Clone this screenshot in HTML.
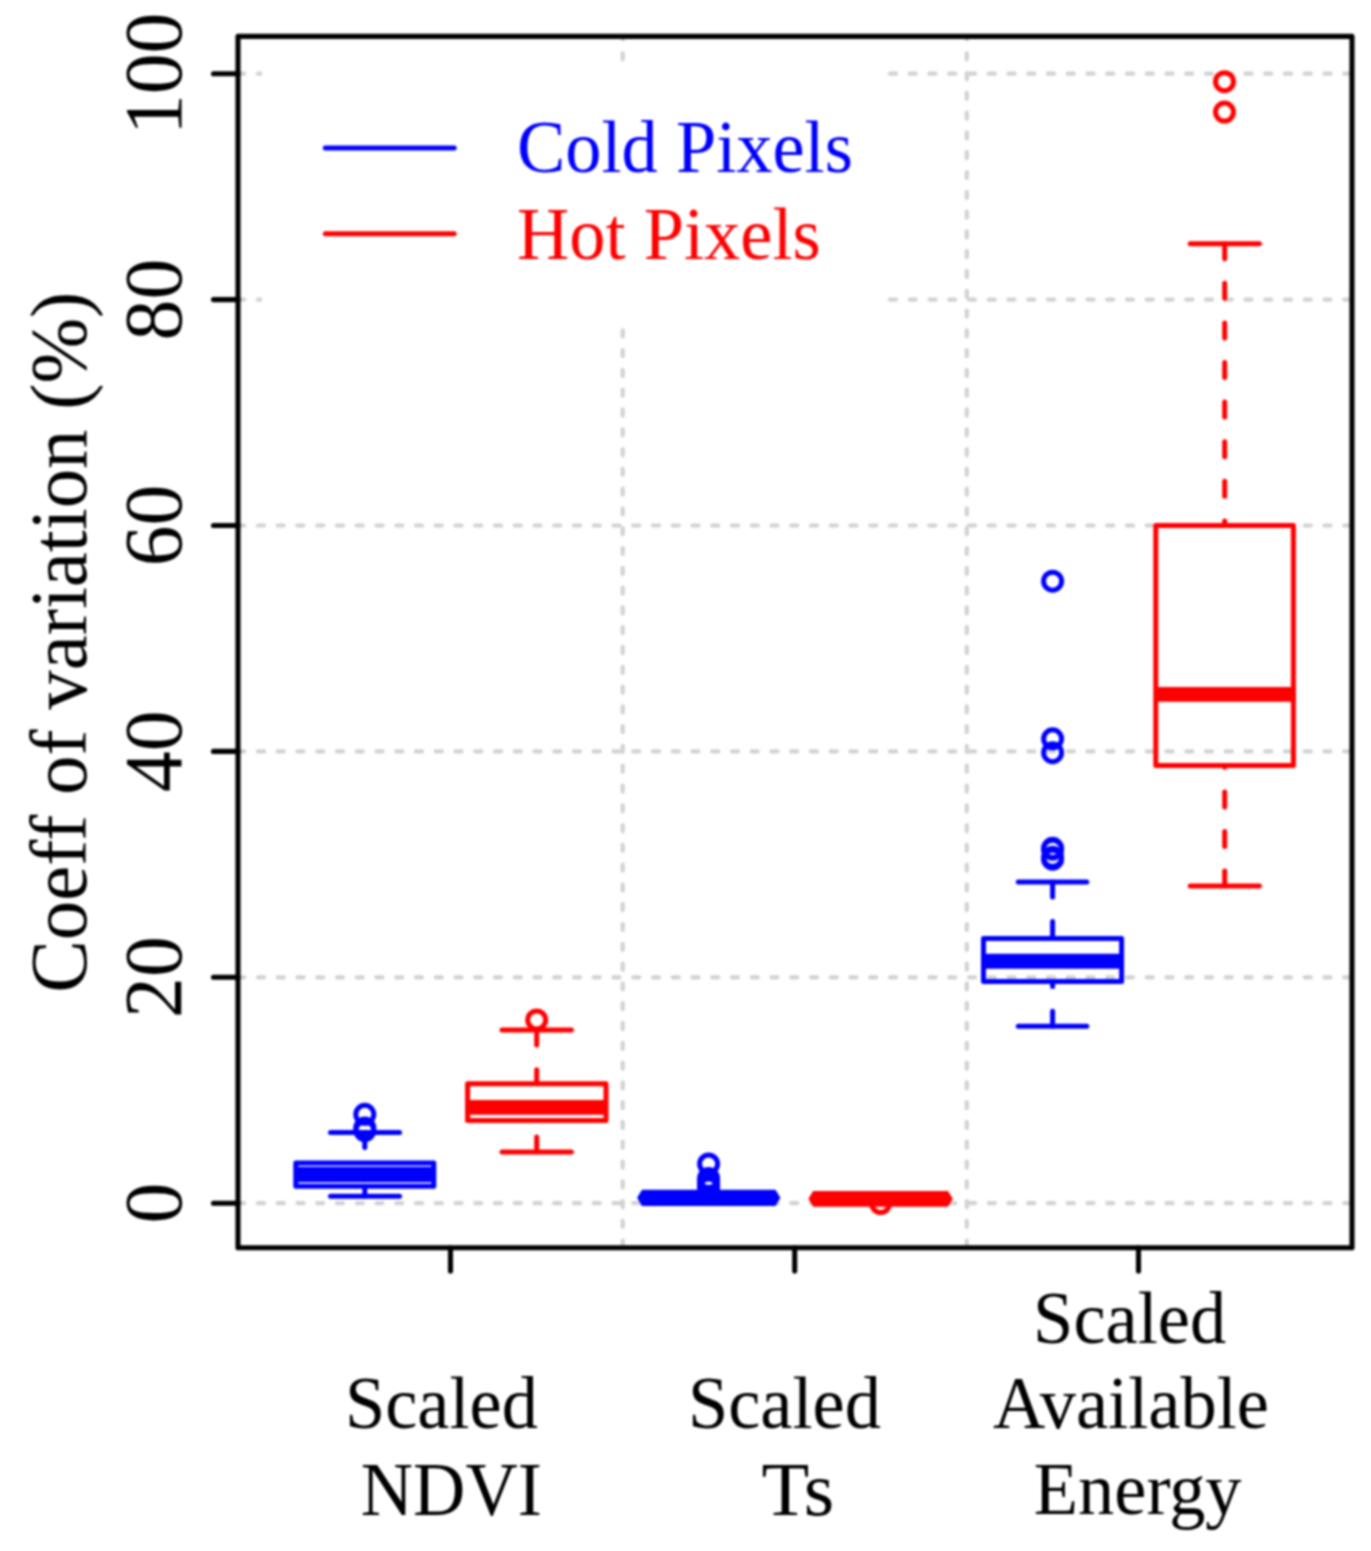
<!DOCTYPE html>
<html>
<head>
<meta charset="utf-8">
<title>Coeff of variation boxplot</title>
<style>
html,body{margin:0;padding:0;background:#fff;}
body{width:1371px;height:1551px;overflow:hidden;}
svg{display:block;position:absolute;left:0;top:0;}
text{font-family:"Liberation Serif",serif;}
</style>
</head>
<body>
<svg id="chart" width="1371" height="1551" viewBox="0 0 1371 1551">
<defs><filter id="soft" x="-2%" y="-2%" width="104%" height="104%" color-interpolation-filters="sRGB"><feGaussianBlur stdDeviation="0.8"/></filter></defs>
<rect x="-20" y="-20" width="1411" height="1591" fill="#fff"/>
<g id="all" filter="url(#soft)">
<rect x="-20" y="-20" width="1411" height="1591" fill="#fff"/>

<!-- grid lines -->
<g id="gridh" stroke="#d2d2d2" stroke-width="4.2" fill="none" stroke-linecap="round" stroke-dasharray="6.1 13.65">
  <line x1="238.2" y1="73.7" x2="1352" y2="73.7"/>
  <line x1="238.2" y1="299.6" x2="1352" y2="299.6"/>
  <line x1="238.2" y1="525.5" x2="1352" y2="525.5"/>
  <line x1="238.2" y1="751.4" x2="1352" y2="751.4"/>
  <line x1="238.2" y1="977.3" x2="1352" y2="977.3"/>
  <line x1="238.2" y1="1203.2" x2="1352" y2="1203.2"/>
</g>
<g id="gridv" stroke="#d2d2d2" stroke-width="4.2" fill="none" stroke-linecap="round" stroke-dasharray="6.1 13.69">
  <line x1="622.7" y1="1246.75" x2="622.7" y2="36"/>
  <line x1="966.8" y1="1246.75" x2="966.8" y2="36"/>
</g>

<!-- legend background -->
<rect id="legbg" x="262" y="62" width="624" height="266" fill="#fff"/>

<!-- frame -->
<rect id="frame" x="238" y="36.4" width="1114" height="1211.3" fill="none" stroke="#000000" stroke-width="5.1" stroke-linejoin="round"/>

<!-- y ticks -->
<g id="yticks" stroke="#000000" stroke-width="5.1" stroke-linecap="round">
  <line x1="213.5" y1="73.7" x2="238" y2="73.7"/>
  <line x1="213.5" y1="299.6" x2="238" y2="299.6"/>
  <line x1="213.5" y1="525.5" x2="238" y2="525.5"/>
  <line x1="213.5" y1="751.4" x2="238" y2="751.4"/>
  <line x1="213.5" y1="977.3" x2="238" y2="977.3"/>
  <line x1="213.5" y1="1203.2" x2="238" y2="1203.2"/>
</g>
<!-- x ticks -->
<g id="xticks" stroke="#000000" stroke-width="5.1" stroke-linecap="round">
  <line x1="450.5" y1="1247.7" x2="450.5" y2="1271"/>
  <line x1="794.7" y1="1247.7" x2="794.7" y2="1271"/>
  <line x1="1138.5" y1="1247.7" x2="1138.5" y2="1271"/>
</g>

<!-- y tick labels -->
<g id="ylabels" font-size="81.6" fill="#000000" text-anchor="middle">
  <text transform="translate(180.8,73.8) rotate(-90) scale(1,1.02)">100</text>
  <text transform="translate(180.8,299.6) rotate(-90) scale(1,1.02)">80</text>
  <text transform="translate(180.8,525.4) rotate(-90) scale(1,1.02)">60</text>
  <text transform="translate(180.8,751.3) rotate(-90) scale(1,1.02)">40</text>
  <text transform="translate(180.8,977.1) rotate(-90) scale(1,1.02)">20</text>
  <text transform="translate(180.8,1203) rotate(-90) scale(1,1.02)">0</text>
</g>
<text id="ytitle" font-size="78" fill="#000000" text-anchor="middle" transform="translate(85.9,642.25) rotate(-90) scale(1.011,1.02)">Coeff of variation (%)</text>

<!-- x labels -->
<g id="xlabels" font-size="72.4" fill="#000000" text-anchor="middle">
  <text id="xl1a" transform="translate(441.4,1428.2) scale(1,1.03)">Scaled</text>
  <text id="xl1b" transform="translate(451.3,1514.8) scale(1,1.055)">NDVI</text>
  <text id="xl2a" transform="translate(784.4,1428.2) scale(1,1.03)">Scaled</text>
  <text id="xl2b" transform="translate(797.8,1514.8) scale(1.08,1.04)">Ts</text>
  <text id="xl3a" transform="translate(1129.6,1343) scale(1,1.03)">Scaled</text>
  <text id="xl3b" transform="translate(1130.9,1428) scale(1,1.03)">Available</text>
  <text id="xl3c" transform="translate(1137.7,1514.4) scale(1,1.03)">Energy</text>
</g>

<!-- legend -->
<g id="legend" font-size="72.4">
  <line x1="325.3" y1="148" x2="454.2" y2="148" stroke="#0000ff" stroke-width="5" stroke-linecap="round"/>
  <line x1="325.3" y1="233.8" x2="454.2" y2="233.8" stroke="#ff0000" stroke-width="5" stroke-linecap="round"/>
  <text id="lg1" transform="translate(517,172) scale(1,1.03)" fill="#0000ff">Cold Pixels</text>
  <text id="lg2" transform="translate(517,258.7) scale(1,1.03)" fill="#ff0000">Hot Pixels</text>
</g>

<!-- BOXES -->
<g id="boxes" fill="none" stroke-width="5" stroke-linecap="round" stroke-linejoin="round">

  <!-- NDVI cold (blue) -->
  <g stroke="#0000ff">
    <line x1="364.8" y1="1132.5" x2="364.8" y2="1163" stroke-dasharray="15 24.6"/>
    <line x1="364.8" y1="1196.3" x2="364.8" y2="1186.2" stroke-dasharray="15 24.6"/>
    <line x1="330.5" y1="1132.5" x2="399.5" y2="1132.5"/>
    <line x1="330.5" y1="1196.3" x2="399.5" y2="1196.3"/>
    <rect x="295.8" y="1163" width="138" height="23.2"/>
    <line x1="295.8" y1="1174.5" x2="433.8" y2="1174.5" stroke-width="15.6" stroke-linecap="butt"/>
    <circle cx="364.8" cy="1114.3" r="9"/>
    <circle cx="364.8" cy="1128" r="9"/>
    <circle cx="364.8" cy="1130.5" r="9"/>
  </g>

  <!-- NDVI hot (red) -->
  <g stroke="#ff0000">
    <line x1="536.7" y1="1030.1" x2="536.7" y2="1083.7" stroke-dasharray="15 24.6"/>
    <line x1="536.7" y1="1151.9" x2="536.7" y2="1120.5" stroke-dasharray="15 24.6"/>
    <line x1="502" y1="1030.1" x2="571.4" y2="1030.1"/>
    <line x1="502" y1="1151.9" x2="571.4" y2="1151.9"/>
    <rect x="467.6" y="1083.7" width="138.4" height="36.8"/>
    <line x1="467.6" y1="1107.4" x2="606" y2="1107.4" stroke-width="14.8" stroke-linecap="butt"/>
    <circle cx="536.7" cy="1019.9" r="9"/>
  </g>

  <!-- Ts cold (blue) -->
  <g stroke="#0000ff">
    <circle cx="708.6" cy="1164" r="9"/>
    <circle cx="708.6" cy="1178.5" r="9"/>
    <circle cx="708.6" cy="1181" r="9"/>
    <circle cx="708.6" cy="1183.5" r="9"/>
    <circle cx="708.6" cy="1186" r="9"/>
    <circle cx="708.6" cy="1188" r="9"/>
    <polygon points="637.1,1197.8 642,1189.7 775.5,1189.7 780.4,1197.8 775.5,1205.9 642,1205.9" fill="#0000ff" stroke="none"/>
  </g>

  <!-- Ts hot (red) -->
  <g stroke="#ff0000">
    <circle cx="880.6" cy="1203.5" r="9"/>
    <polygon points="808.4,1198.85 813.2,1191 948,1191 952.8,1198.85 948,1206.7 813.2,1206.7" fill="#ff0000" stroke="none"/>
  </g>

  <!-- AE cold (blue) -->
  <g stroke="#0000ff">
    <line x1="1052.6" y1="881.9" x2="1052.6" y2="938.6" stroke-dasharray="15 24.6"/>
    <line x1="1052.6" y1="1026.2" x2="1052.6" y2="981.6" stroke-dasharray="15 24.6"/>
    <line x1="1018.3" y1="881.9" x2="1086.8" y2="881.9"/>
    <line x1="1018.3" y1="1026.2" x2="1086.8" y2="1026.2"/>
    <rect x="983.5" y="938.6" width="138.1" height="43"/>
    <line x1="983.5" y1="961.25" x2="1121.6" y2="961.25" stroke-width="14.8" stroke-linecap="butt"/>
    <circle cx="1052.6" cy="581.2" r="9"/>
    <circle cx="1052.6" cy="738.8" r="9"/>
    <circle cx="1052.6" cy="752.7" r="9"/>
    <circle cx="1052.6" cy="848.3" r="9"/>
    <circle cx="1052.6" cy="849.2" r="9"/>
    <circle cx="1052.6" cy="857.3" r="9"/>
    <circle cx="1052.6" cy="859.2" r="9"/>
  </g>

  <!-- AE hot (red) -->
  <g stroke="#ff0000">
    <line x1="1224.7" y1="243.7" x2="1224.7" y2="525.4" stroke-dasharray="15 24.6"/>
    <line x1="1224.7" y1="886.1" x2="1224.7" y2="765.5" stroke-dasharray="15 24.6"/>
    <line x1="1190.2" y1="243.7" x2="1259.4" y2="243.7"/>
    <line x1="1190.2" y1="886.1" x2="1259.4" y2="886.1"/>
    <rect x="1155.8" y="525.4" width="137.6" height="240.1"/>
    <line x1="1155.8" y1="694.3" x2="1293.4" y2="694.3" stroke-width="14.8" stroke-linecap="butt"/>
    <circle cx="1224.5" cy="81.7" r="9"/>
    <circle cx="1224.5" cy="112.1" r="9"/>
  </g>
</g>
</g>
</svg>
</body>
</html>
